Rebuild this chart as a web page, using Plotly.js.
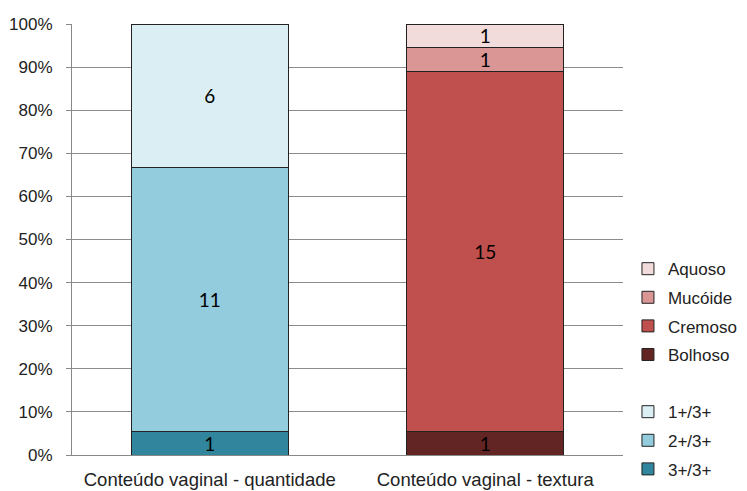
<!DOCTYPE html>
<html><head><meta charset="utf-8">
<script src="https://cdn.plot.ly/plotly-3.0.1.min.js"></script>
<style>html,body{margin:0;padding:0;background:#fff}#chart{width:747px;height:491px}</style>
</head><body><div id="chart"></div>
<script>
const categories = ["Conteúdo vaginal - quantidade", "Conteúdo vaginal - textura"];
const qtyNames = ["3+/3+", "2+/3+", "1+/3+"];
const qtyValues = [1, 11, 6];
const qtyColors = ["#31859c", "#93cddd", "#dbeef4"];
const texNames = ["Bolhoso", "Cremoso", "Mucóide", "Aquoso"];
const texValues = [1, 15, 1, 1];
const texColors = ["#632523", "#c0504d", "#d99694", "#f2dcdb"];

const textFont = {family: "Lato, 'Open Sans', sans-serif", size: 19, color: "#000"};
const traces = [];
qtyNames.forEach((n, i) => {
  traces.push({type: "bar", name: n, x: categories, y: [qtyValues[i], null],
    text: [String(qtyValues[i]), ""], texttemplate: "%{text}", textposition: "inside",
    insidetextanchor: "middle", textangle: 0, textfont: textFont, constraintext: "none",
    marker: {color: qtyColors[i], line: {color: "#222", width: 1}},
    legendgroup: "q" + i, legendrank: 8 - i, hoverinfo: "skip"});
});
// spacer entry in legend between the two groups
traces.push({type: "bar", name: " ", x: [categories[0]], y: [0], showlegend: true,
  marker: {color: "rgba(0,0,0,0)", line: {width: 0}}, legendgroup: "sp", legendrank: 5, hoverinfo: "skip"});
texNames.forEach((n, i) => {
  traces.push({type: "bar", name: n, x: categories, y: [null, texValues[i]],
    text: ["", String(texValues[i])], texttemplate: "%{text}", textposition: "inside",
    insidetextanchor: "middle", textangle: 0, textfont: textFont, constraintext: "none",
    marker: {color: texColors[i], line: {color: "#222", width: 1}},
    legendgroup: "t" + i, legendrank: 4 - i, hoverinfo: "skip"});
});

const layout = {
  width: 747, height: 491,
  margin: {l: 72, r: 124, t: 24, b: 36, autoexpand: false},
  barmode: "stack", barnorm: "percent", bargap: 0.43,
  paper_bgcolor: "#fff", plot_bgcolor: "#fff",
  font: {family: "'Liberation Sans', Arial, sans-serif", size: 17, color: "#222"},
  xaxis: {showgrid: false, showline: true, linecolor: "#888", linewidth: 1,
    ticks: "", ticklabelstandoff: 8, tickfont: {size: 18.5, color: "#222"}},
  yaxis: {range: [0, 100], dtick: 10, ticksuffix: "%", showgrid: true, gridcolor: "#8c8c8c",
    gridwidth: 1, showline: true, linecolor: "#888", linewidth: 1, ticks: "outside",
    ticklen: 5, tickcolor: "#888", ticklabelstandoff: 10, zeroline: false,
    tickfont: {size: 17, color: "#222"}},
  showlegend: true,
  legend: {x: 1.009, xanchor: "left", y: 0.473, yanchor: "top", traceorder: "grouped",
    tracegroupgap: 3.5, font: {size: 17, color: "#222"}, bgcolor: "rgba(0,0,0,0)", itemwidth: 30}
};
Plotly.newPlot("chart", traces, layout, {staticPlot: true});
</script></body></html>
